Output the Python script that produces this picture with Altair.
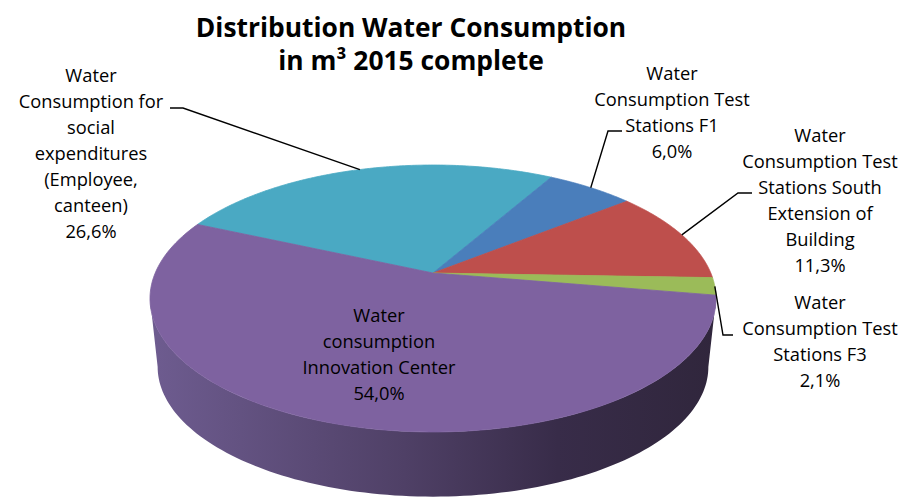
import math
import altair as alt
import pandas as pd

# ---------------- data ----------------
categories = [
    "Water Consumption for social expenditures (Employee, canteen)",
    "Water Consumption Test Stations F1",
    "Water Consumption Test Stations South Extension of Building",
    "Water Consumption Test Stations F3",
    "Water consumption Innovation Center",
]
shares = [26.6, 6.0, 11.3, 2.1, 54.0]
label_lines = [
    ["Water", "Consumption for", "social", "expenditures", "(Employee,", "canteen)"],
    ["Water", "Consumption Test", "Stations F1"],
    ["Water", "Consumption Test", "Stations South", "Extension of", "Building"],
    ["Water", "Consumption Test", "Stations F3"],
    ["Water", "consumption", "Innovation Center"],
]
percent_labels = ["26,6%", "6,0%", "11,3%", "2,1%", "54,0%"]
title_lines = ["Distribution Water Consumption", "in m³ 2015 complete"]

# ---------------- styles / layout ----------------
slice_colors = ["#4AA9C3", "#4A7EBB", "#BE4F4C", "#9BBB59", "#7E62A0"]
W, H = 913, 498
CX, CY = 433.0, 273.0          # projected pie centre
RX, RY, K = 277.8, 128.6, 0.191  # radii and perspective factor
DEPTH, BSCALE = 69.0, 0.973     # thickness of the pie, scale of its bottom rim
START = -66.0                   # angle of first slice (deg, clockwise from top)
N = 120                         # points per arc
FONT = "Open Sans"
label_x = [91, 672, 820, 820, 379]
label_y = [82, 80, 142, 309, 322]
elbow_x = [183, 608, 738, 723, None]
elbow_y = [108, 131, 193, 335, None]
end_x = [170, 622, 752, 733, None]
end_y = [108, 131, 193, 335, None]

df = pd.DataFrame({
    "category": categories,
    "share": shares,
    "k": list(range(len(categories))),
    "label": ["\n".join(l + [p]) for l, p in zip(label_lines, percent_labels)],
    "lx": label_x, "ly": label_y,
    "ex1": elbow_x, "ey1": elbow_y, "ex2": end_x, "ey2": end_y,
})

xs = alt.Scale(domain=[0, W], nice=False, zero=False)
ys = alt.Scale(domain=[0, H], nice=False, zero=False, reverse=True)
color_scale = alt.Scale(domain=categories, range=slice_colors)


def px_expr(t, sc="1"):
    return f"({CX}+({sc})*{RX}*sin({t})/(1+{K}*cos({t})))"


def py_expr(t, sc="1", dy="0"):
    return f"({CY}+({dy})-({sc})*{RY}*cos({t})/(1+{K}*cos({t})))"


def with_angles(ch):
    return (
        ch.transform_window(cum="sum(share)", sort=[alt.SortField("k")], frame=[None, 0])
        .transform_joinaggregate(total="sum(share)")
        .transform_calculate(a0=f"{START}+360*(datum.cum-datum.share)/datum.total")
        .transform_calculate(a1=f"{START}+360*datum.cum/datum.total")
    )


enc_xy = dict(
    x=alt.X("px:Q", scale=xs, axis=None),
    y=alt.Y("py:Q", scale=ys, axis=None),
    order=alt.Order("idx:Q"),
    detail="category:N",
)

# --- side wall (visible front part) ---
lo = math.degrees(math.acos(-K))
hi = 360 - lo
side_grad = alt.Gradient(
    gradient="linear",
    stops=[
        alt.GradientStop(offset=0, color="#6E5C90"),
        alt.GradientStop(offset=0.45, color="#4F4066"),
        alt.GradientStop(offset=0.72, color="#382C49"),
        alt.GradientStop(offset=1, color="#30263C"),
    ],
    x1=0, x2=1, y1=0, y2=0,
)
side = (
    with_angles(alt.Chart(df))
    .transform_calculate(s0=f"max(datum.a0,{lo})")
    .transform_calculate(s1=f"min(datum.a1,{hi})")
    .transform_filter("datum.s1>datum.s0")
    .transform_calculate(idx=f"sequence(0,{2 * N + 2})")
    .transform_flatten(["idx"])
    .transform_calculate(bot=f"datum.idx>{N} ? 1 : 0")
    .transform_calculate(
        t=f"(datum.idx<={N} ? datum.s0+(datum.s1-datum.s0)*datum.idx/{N} : "
          f"datum.s1-(datum.s1-datum.s0)*(datum.idx-{N + 1})/{N})*PI/180"
    )
    .transform_calculate(sc=f"datum.bot ? {BSCALE} : 1")
    .transform_calculate(dy=f"datum.bot ? {DEPTH} : 0")
    .transform_calculate(px=px_expr("datum.t", "datum.sc"))
    .transform_calculate(py=py_expr("datum.t", "datum.sc", "datum.dy"))
    .mark_line(fill=side_grad, strokeOpacity=0)
    .encode(**enc_xy)
)

# --- top faces of the slices ---
top = (
    with_angles(alt.Chart(df))
    .transform_calculate(idx=f"sequence(0,{N + 3})")
    .transform_flatten(["idx"])
    .transform_calculate(
        t=f"(datum.idx<={N} ? datum.a0+(datum.a1-datum.a0)*datum.idx/{N} : datum.a0)*PI/180"
    )
    .transform_calculate(px=f"datum.idx=={N + 1} ? {CX} : " + px_expr("datum.t"))
    .transform_calculate(py=f"datum.idx=={N + 1} ? {CY} : " + py_expr("datum.t"))
    .mark_line(strokeWidth=0.8)
    .encode(
        fill=alt.Fill("category:N", scale=color_scale, legend=None),
        stroke=alt.Stroke("category:N", scale=color_scale, legend=None),
        **enc_xy,
    )
)

# --- leader lines ---
leaders = (
    with_angles(alt.Chart(df))
    .transform_filter("isValid(datum.ex1)")
    .transform_calculate(mid="(datum.a0+datum.a1)/2*PI/180")
    .transform_calculate(idx="sequence(0,3)")
    .transform_flatten(["idx"])
    .transform_calculate(
        px=f"datum.idx==0 ? {px_expr('datum.mid')} : datum.idx==1 ? datum.ex1 : datum.ex2"
    )
    .transform_calculate(
        py=f"datum.idx==0 ? {py_expr('datum.mid')} : datum.idx==1 ? datum.ey1 : datum.ey2"
    )
    .mark_line(color="#000000", strokeWidth=1.4)
    .encode(**enc_xy)
)

# --- labels ---
labels = (
    alt.Chart(df)
    .mark_text(font=FONT, fontSize=18.3, lineHeight=26, lineBreak="\n",
               align="center", baseline="alphabetic", color="#000000")
    .encode(
        x=alt.X("lx:Q", scale=xs, axis=None),
        y=alt.Y("ly:Q", scale=ys, axis=None),
        text="label:N",
    )
)

title_df = pd.DataFrame({"t": ["\n".join(title_lines)], "tx": [411], "ty": [37]})
title = (
    alt.Chart(title_df)
    .mark_text(font=FONT, fontSize=26.4, fontWeight="bold", lineHeight=33, lineBreak="\n",
               align="center", baseline="alphabetic", color="#000000")
    .encode(
        x=alt.X("tx:Q", scale=xs, axis=None),
        y=alt.Y("ty:Q", scale=ys, axis=None),
        text="t:N",
    )
)

chart = (
    alt.layer(side, top, leaders, labels, title)
    .properties(width=W, height=H, padding=0, autosize=alt.AutoSizeParams(type="none"),
                background="white")
    .configure_view(stroke=None)
)

chart.save("out.html", embed_options={"renderer": "svg", "actions": False})
